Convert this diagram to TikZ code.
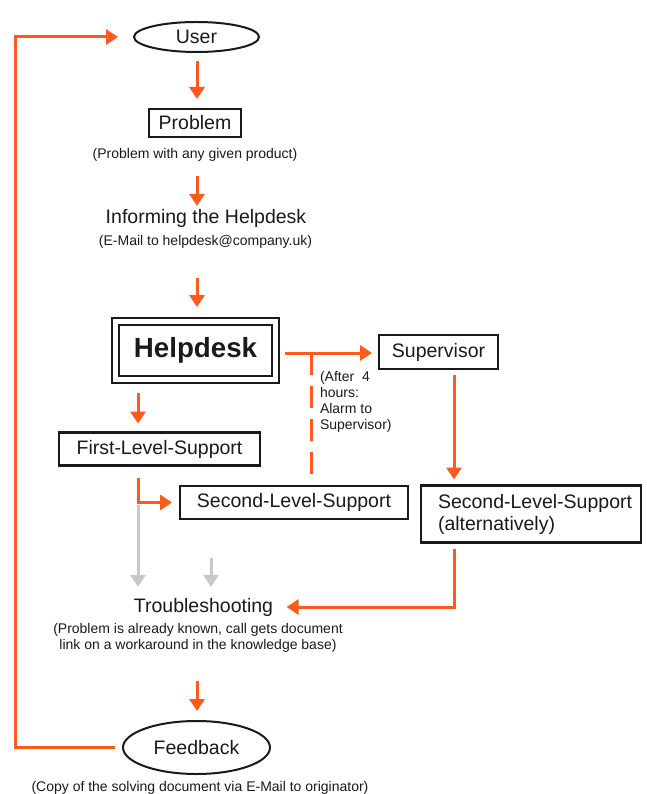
\documentclass[tikz,border=0pt]{standalone}
\usepackage{fontspec}
\setmainfont{Liberation Sans}
\usetikzlibrary{arrows.meta,shapes.geometric}
\definecolor{orng}{HTML}{FF5A1E}
\definecolor{gry}{HTML}{C8C8C8}
\definecolor{ink}{HTML}{1A1A1A}
\newcommand{\mainf}{\fontsize{19.5}{22}\selectfont}
\newcommand{\smallf}{\fontsize{14}{16}\selectfont}
\newcommand{\bigbf}{\fontsize{27.7}{30}\selectfont\bfseries}
\begin{document}
\begin{tikzpicture}[x=1pt,y=-1pt,
  every node/.style={outer sep=0pt},
  box/.style={draw=ink,line width=2.3pt,inner sep=0pt,font=\mainf,text=ink},
  oval/.style={ellipse,draw=ink,line width=2pt,inner sep=0pt,font=\mainf,text=ink},
  lbl/.style={inner sep=0pt,font=\mainf,text=ink},
  note/.style={inner sep=0pt,font=\smallf,text=ink,align=center},
  oarr/.style={draw=orng,line width=3pt,-{Triangle[length=12pt,width=15pt]}},
  garr/.style={draw=gry,line width=3pt,-{Triangle[length=12pt,width=15pt]}},
  dline/.style={draw=orng,line width=3pt,dash pattern=on 22pt off 11pt}]
\fill[white] (0,0) rectangle (646,794);
\useasboundingbox (0,0) rectangle (646,794);

% nodes
\node[oval,minimum width=125pt,minimum height=30pt] (user) at (196.5,37) {User};
\node[box,minimum width=92pt,minimum height=28pt] (prob) at (195,123) {Problem};
\node[note] (probn) at (195,155) {(Problem with any given product)};
\node[lbl] (inform) at (206,218) {Informing the Helpdesk};
\node[note] (email) at (205.5,242) {(E-Mail to helpdesk@company.uk)};
\node[draw=ink,line width=2.3pt,double=white,double distance=4.5pt,
      minimum width=160pt,minimum height=58pt,inner sep=0pt,font=\bigbf,text=ink]
      (help) at (195.5,350.5) {Helpdesk};
\node[box,minimum width=119pt,minimum height=34pt] (sup) at (438.5,352) {Supervisor};
\node[note,align=left,anchor=base west] (after) at (320,429)
      {(After\ \ 4\\hours:\\Alarm to\\Supervisor)};
\node[box,minimum width=201pt,minimum height=33pt] (fls) at (159.5,449) {First-Level-Support};
\node[box,minimum width=228pt,minimum height=33pt] (sls) at (294,502.5) {Second-Level-Support};
\node[box,minimum width=220pt,minimum height=57pt] (alt) at (531,514) {};
\node[lbl,anchor=west,align=left] (altt) at (438,514) {Second-Level-Support\\(alternatively)};
\node[lbl] (trouble) at (203.5,607) {Troubleshooting};
\node[note] (tn) at (198,638) {(Problem is already known, call gets document\\link on a workaround in the knowledge base)};
\node[oval,minimum width=147pt,minimum height=53pt] (fb) at (196.5,747.5) {Feedback};
\node[note] (copy) at (200,788) {(Copy of the solving document via E-Mail to originator)};

% helper coordinates
\coordinate (ax) at (197,0);
\coordinate (x138) at (138,0);
\coordinate (x454) at (454,0);
\coordinate (dj) at (311,353);
\coordinate (g1s) at (138,505);
\coordinate (g2s) at (211,558);
\coordinate (lc) at (15,37);

% connectors
\draw[oarr,shorten <=9pt,shorten >=10pt] (user.south -| ax) -- (prob.north -| ax);
\draw[oarr,shorten <=14pt,shorten >=3pt] (probn.south -| ax) -- (inform.north -| ax);
\draw[oarr,shorten <=29pt,shorten >=14.5pt] (email.south -| ax) -- (help.north -| ax);
\draw[oarr,shorten <=9.5pt,shorten >=7pt] (help.east |- dj) -- (sup.west |- dj);
\draw[dline,shorten >=8pt] (dj) -- (dj |- sls.north);
\draw[oarr,shorten <=13.5pt,shorten >=9pt] (help.south -| x138) -- (fls.north -| x138);
\draw[oarr,shorten <=12pt,shorten >=8pt] (fls.south -| x138) |- (sls.west);
\draw[garr,shorten >=11pt] (g1s) -- (g1s |- trouble.north);
\draw[garr,shorten >=11pt] (g2s) -- (g2s |- trouble.north);
\draw[oarr,shorten <=6pt,shorten >=6pt] (sup.south -| x454) -- (alt.north -| x454);
\draw[oarr,shorten <=6pt,shorten >=13.5pt] (alt.south -| x454) |- (trouble.east);
\draw[oarr,shorten <=28pt,shorten >=10pt] (tn.south -| ax) -- (fb.north -| ax);
\draw[oarr,shorten <=8pt,shorten >=16pt] (fb.west) -| (lc) -- (user.west);
\end{tikzpicture}
\end{document}
